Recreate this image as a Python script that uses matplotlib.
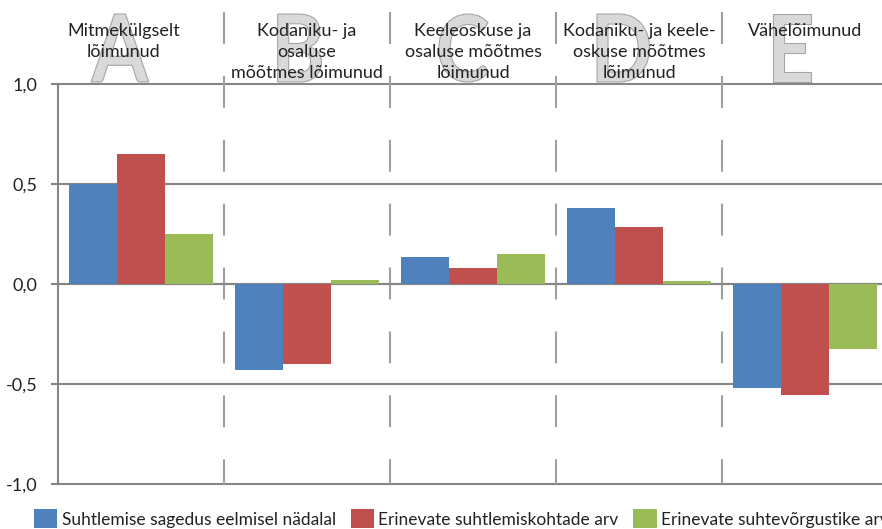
import matplotlib
matplotlib.use('Agg')
import matplotlib.pyplot as plt
from matplotlib.textpath import TextPath
from matplotlib.patches import PathPatch
from matplotlib.font_manager import FontProperties
from matplotlib.transforms import Affine2D, ScaledTranslation
import numpy as np

matplotlib.rcParams['font.family'] = ['Lato', 'DejaVu Sans']
matplotlib.rcParams['lines.scale_dashes'] = False

# andmed
groups = ['Mitmekülgselt\nlõimunud',
          'Kodaniku- ja\nosaluse\nmõõtmes lõimunud',
          'Keeleoskuse ja\nosaluse mõõtmes\nlõimunud',
          'Kodaniku- ja keele-\noskuse mõõtmes\nlõimunud',
          'Vähelõimunud']
letters = ['A', 'B', 'C', 'D', 'E']
series = ['Suhtlemise sagedus eelmisel nädalal',
          'Erinevate suhtlemiskohtade arv',
          'Erinevate suhtevõrgustike arv']
sagedus = [0.50, -0.43, 0.135, 0.38, -0.52]
kohtad = [0.65, -0.40, 0.08, 0.285, -0.555]
vorgustik = [0.25, 0.02, 0.15, 0.015, -0.325]
yticks = [-1.0, -0.5, 0.0, 0.5, 1.0]
ylabels = ['-1,0', '-0,5', '0,0', '0,5', '1,0']

colors = ['#4F81BD', '#C0504D', '#9BBB59']
grid_c = '#868686'
txt_c = '#222222'
# small horizontal nudges for the big letters / titles (in group units)
letter_shift = [-0.127, -0.045, -0.055, -0.095, -0.078]
title_shift = [-0.105, 0, 0, 0, 0]

fig = plt.figure(figsize=(8.82, 5.29), dpi=100)
ax = fig.add_axes([0.0658, 0.0851, 0.941, 0.7561])

x = np.arange(len(groups))
w = 0.29
for i, (vals, c, lab) in enumerate(zip([sagedus, kohtad, vorgustik], colors, series)):
    ax.bar(x + (i - 1) * w, vals, w, color=c, label=lab, zorder=3)

ax.set_xlim(-0.5, 4.5)
ax.set_ylim(-1, 1)
ax.set_yticks(yticks)
ax.set_yticklabels(ylabels)
for y in yticks:
    ax.axhline(y, color=grid_c, lw=1.5, zorder=1, clip_on=False)

for s in ['top', 'right']:
    ax.spines[s].set_visible(False)
ax.spines['left'].set_color(grid_c)
ax.spines['left'].set_linewidth(1.5)
ax.spines['bottom'].set_position(('data', 0))
ax.spines['bottom'].set_color(grid_c)
ax.spines['bottom'].set_linewidth(1.5)
ax.set_xticks(x + 0.5)
ax.set_xticklabels([])
ax.tick_params(axis='x', length=5, width=1.5, color='#666666', direction='inout')
ax.tick_params(axis='y', length=5, width=1.5, color=grid_c, pad=10,
               labelsize=13, labelcolor=txt_c)

# katkendlikud eraldajad
for b in x[:-1] + 0.5:
    ax.plot([b, b], [1.36, -1.0], color='#A0A0A0', lw=1.5, dashes=(23, 23),
            clip_on=False, zorder=2)

# suured tähed taustal (kitsendatud, pikslites)
fp = FontProperties(family='Lato', weight='bold')
for xi, L, dx in zip(x, letters, letter_shift):
    tp = TextPath((0, 0), L, size=95, prop=fp)
    ext = tp.get_extents()
    tr = (Affine2D().translate(-(ext.x0 + ext.x1) / 2, -ext.y0)
          .scale(0.86, 68.0 / ext.height)
          + ScaledTranslation(xi + dx, 1.0, ax.transData)
          + Affine2D().translate(0, 2))
    ax.add_patch(PathPatch(tp, transform=tr, facecolor='#D9D9D9',
                           edgecolor='#A6A6A6', lw=0.8, zorder=0, clip_on=False))

for xi, g, dx in zip(x, groups, title_shift):
    ax.text(xi + dx, 1.305, g, ha='center', va='top', fontsize=13,
            linespacing=1.4, color=txt_c, zorder=4, clip_on=False)

fig.legend(loc='upper left', bbox_to_anchor=(0.0385, 0.0378), ncol=3,
           frameon=False, fontsize=12.5, handlelength=1.35, handleheight=1.35,
           handletextpad=0.25, columnspacing=0.85, borderpad=0,
           borderaxespad=0, labelcolor=txt_c)

fig.savefig('out.png', dpi=100)
